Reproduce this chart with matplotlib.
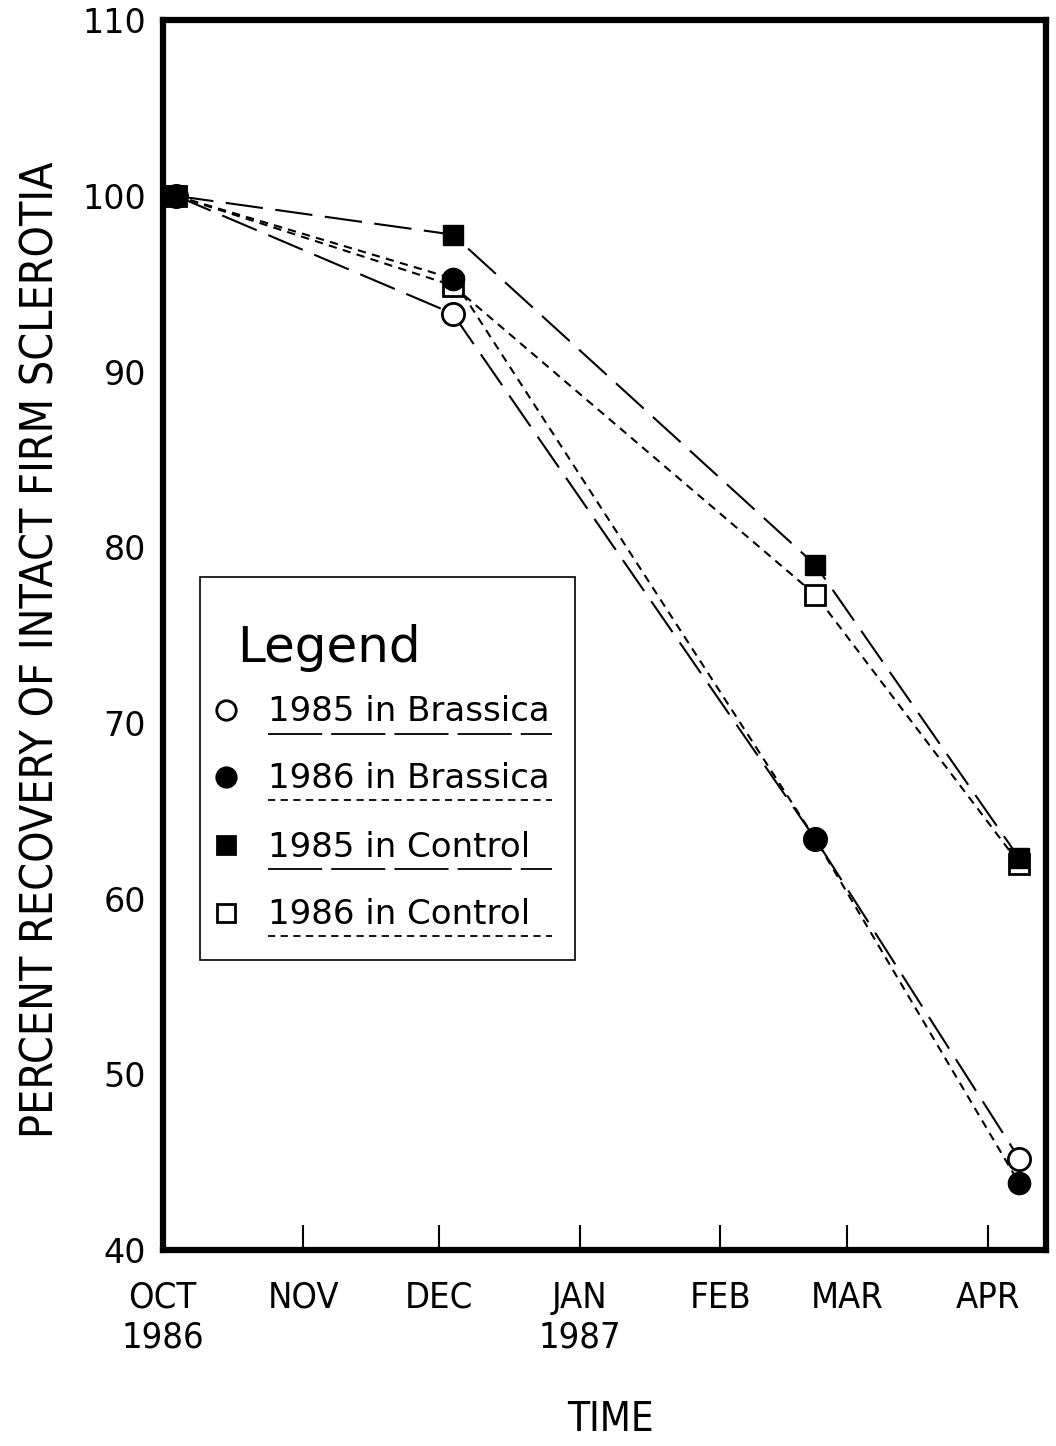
import matplotlib
matplotlib.use("Agg")
import matplotlib.pyplot as plt
from matplotlib.patches import Rectangle

# days counted from 1 Oct 1986
month_days = [0, 31, 61, 92, 123, 151, 182]
month_labels = ['OCT\n1986', 'NOV', 'DEC', 'JAN\n1987', 'FEB', 'MAR', 'APR']
sample_days = [3, 64, 144, 189]

brassica_1985 = [100, 93.3, 63.4, 45.2]
brassica_1986 = [100, 95.3, 63.4, 43.8]
control_1985 = [100, 97.8, 79.0, 62.3]
control_1986 = [100, 94.9, 77.3, 62.0]

series_labels = ['1985 in Brassica', '1986 in Brassica', '1985 in Control', '1986 in Control']

long_dash = (0, (18, 6))
short_dash = (0, (4, 3))

fig = plt.figure(figsize=(10.56, 14.46), dpi=100)
ax = fig.add_axes([0.154, 0.1355, 0.837, 0.8505])

lw = 1.5
# drawing order matters for overlapping markers
ax.plot(sample_days, control_1986, linestyle=short_dash, color='black', lw=lw,
        marker='s', ms=14, mfc='white', mec='black', mew=2)
ax.plot(sample_days, brassica_1985, linestyle=long_dash, color='black', lw=lw,
        marker='o', ms=16, mfc='white', mec='black', mew=2)
ax.plot(sample_days, brassica_1986, linestyle=short_dash, color='black', lw=lw,
        marker='o', ms=16, mfc='black', mec='black')
ax.plot(sample_days, control_1985, linestyle=long_dash, color='black', lw=lw,
        marker='s', ms=15, mfc='black', mec='black')

ax.set_xlim(0, 195)
ax.set_ylim(40, 110)
ax.set_xticks(month_days)
ax.set_xticklabels(month_labels, fontsize=26, family='DejaVu Sans', stretch='condensed',
                   linespacing=1.2)
ax.set_yticks(range(40, 111, 10))
ax.set_yticklabels([str(v) for v in range(40, 111, 10)], fontsize=24)
ax.tick_params(axis='x', direction='in', length=18, width=1.5, pad=22)
ax.tick_params(axis='y', length=0, pad=12)
for s in ax.spines.values():
    s.set_linewidth(4.5)

ax.set_ylabel('PERCENT RECOVERY OF INTACT FIRM SCLEROTIA', fontsize=32,
              family='DejaVu Sans', stretch='condensed', labelpad=14)
ax.yaxis.label.set_y(0.488)
ax.set_xlabel('TIME', fontsize=29, family='DejaVu Sans', stretch='condensed', labelpad=33)
ax.xaxis.label.set_x(0.507)

# hand-built legend box
T = ax.transAxes
ax.add_patch(Rectangle((0.042, 0.236), 0.424, 0.311, transform=T,
                       fill=True, facecolor='white', edgecolor='black', lw=1.2, zorder=5))
ax.text(0.084, 0.478, 'Legend', transform=T, fontsize=36, va='baseline', zorder=6)

row_y = [0.439, 0.3846, 0.329, 0.274]
markers = [('o', 'white', 14), ('o', 'black', 14), ('s', 'black', 13), ('s', 'white', 13)]
styles = [(0, (30, 5)), (0, (4, 3)), (0, (30, 5)), (0, (4, 3))]
for y, lab, (m, fc, ms), st in zip(row_y, series_labels, markers, styles):
    ax.plot([0.0713], [y], transform=T, marker=m, ms=ms, mfc=fc, mec='black',
            mew=2, ls='none', zorder=6, clip_on=False)
    ax.text(0.119, y - 0.009, lab, transform=T, fontsize=24.5, va='baseline', zorder=6)
    ax.plot([0.119, 0.441], [y - 0.019, y - 0.019], transform=T, color='black',
            lw=1.3, linestyle=st, zorder=6)

fig.savefig('out.png', dpi=100)
